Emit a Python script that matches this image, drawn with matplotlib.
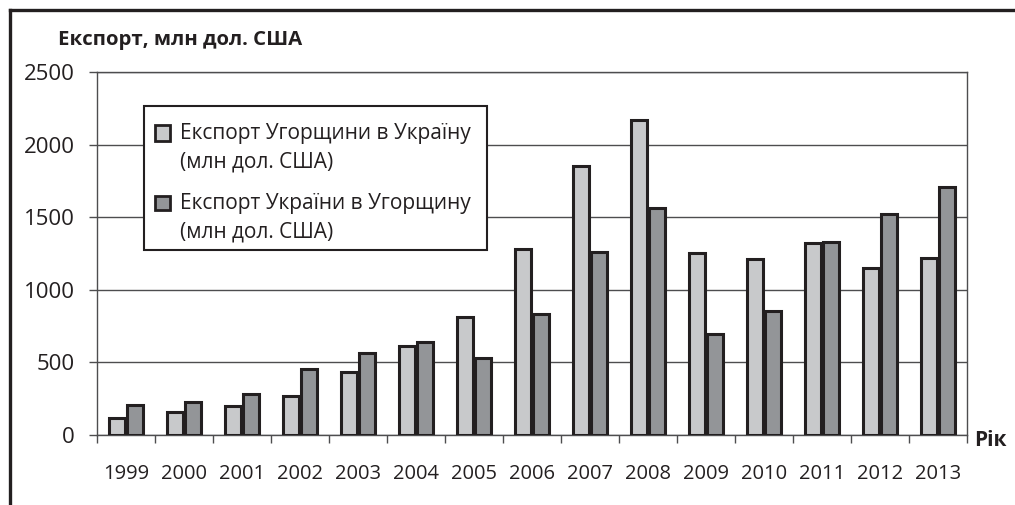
import matplotlib.pyplot as plt
import matplotlib.lines as mlines
import matplotlib.patches as mpatches
import numpy as np

plt.rcParams['font.family'] = ['Open Sans', 'DejaVu Sans']

# Data
years = ['1999', '2000', '2001', '2002', '2003', '2004', '2005', '2006',
         '2007', '2008', '2009', '2010', '2011', '2012', '2013']
hu_to_ua = [119, 156, 202, 269, 436, 613, 815, 1279, 1852, 2169, 1256, 1212, 1320, 1152, 1221]
ua_to_hu = [207, 229, 280, 452, 567, 640, 532, 833, 1258, 1565, 696, 856, 1331, 1522, 1706]
label_hu = ['Експорт Угорщини в Україну', '(млн дол. США)']
label_ua = ['Експорт України в Угорщину', '(млн дол. США)']
c_light = '#c8c9cb'
c_dark = '#939598'
ink = '#231f20'

W, H = 1015, 505


def fx(px):
    return px / W


def fy(py):
    return 1 - py / H


fig = plt.figure(figsize=(W / 100, H / 100), dpi=100)
ax = fig.add_axes([fx(97), fy(435), 870 / W, 363 / H])

x = np.arange(len(years))
w = 0.29
ax.bar(x - 0.155, hu_to_ua, w, color=c_light, edgecolor=ink, linewidth=2.2, zorder=3)
ax.bar(x + 0.155, ua_to_hu, w, color=c_dark, edgecolor=ink, linewidth=2.2, zorder=3)

ax.set_xlim(-0.5, len(years) - 0.5)
ax.set_ylim(0, 2500)
ax.set_yticks(range(0, 2501, 500))
ax.yaxis.grid(True, color='#4d4d4f', linewidth=1.0, zorder=0)
for s in ax.spines.values():
    s.set_color('#4d4d4f')
    s.set_linewidth(1.0)

ax.set_xticks(x)
ax.set_xticklabels(years)
ax.set_xticks(np.arange(-0.5, len(years)), minor=True)
ax.tick_params(axis='x', which='major', length=0, pad=21, labelsize=14.5, colors=ink)
ax.tick_params(axis='x', which='minor', length=6, width=1, color='#4d4d4f', direction='out')
ax.tick_params(axis='y', length=6, width=1, color='#4d4d4f', pad=10, labelsize=16,
               labelcolor=ink)

fig.text(fx(58), fy(40), 'Експорт, млн дол. США', fontsize=14.7, fontweight='bold',
         color=ink, va='center', ha='left')
fig.text(fx(974), fy(441), 'Рік', fontsize=15, fontweight='bold',
         color=ink, va='center', ha='left')

# legend box drawn by hand so the swatch sits on the first text line
fig.add_artist(mpatches.Rectangle((fx(144), fy(250)), fx(487) - fx(144), fy(106) - fy(250),
                                  transform=fig.transFigure, facecolor='white',
                                  edgecolor=ink, linewidth=1.5, zorder=5))
for lines, color, y0 in [(label_hu, c_light, 133), (label_ua, c_dark, 203)]:
    fig.add_artist(mpatches.Rectangle((fx(155), fy(y0 + 7.5)), fx(170) - fx(155),
                                      fy(y0 - 7.5) - fy(y0 + 7.5),
                                      transform=fig.transFigure, facecolor=color,
                                      edgecolor=ink, linewidth=2.0, zorder=6))
    fig.text(fx(180), fy(y0), lines[0], fontsize=15, color=ink, va='center', ha='left',
             zorder=6)
    fig.text(fx(180), fy(y0 + 29), lines[1], fontsize=15, color=ink, va='center', ha='left',
             zorder=6)

# outer frame (top and left)
fig.add_artist(mlines.Line2D([fx(10), 1.0], [fy(10), fy(10)],
                             transform=fig.transFigure, color=ink, linewidth=2.4))
fig.add_artist(mlines.Line2D([fx(10), fx(10)], [fy(10), 0],
                             transform=fig.transFigure, color=ink, linewidth=2.4))

fig.savefig('out.png', dpi=100)
